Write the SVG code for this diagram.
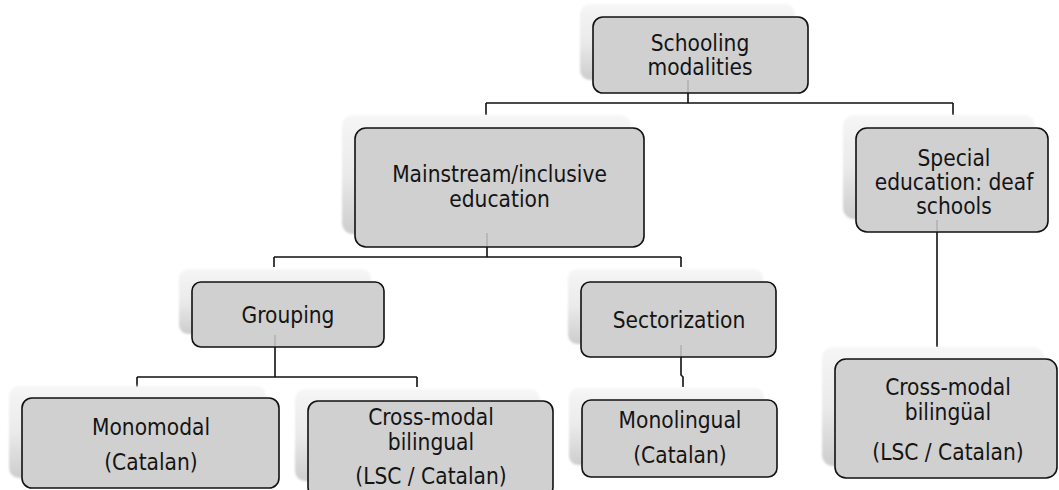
<svg xmlns="http://www.w3.org/2000/svg" width="1059" height="490" viewBox="0 0 1059 490">
  <style>
    .box { fill: #d0d0d0; stroke: #111; stroke-width: 1.6; }
    .back { fill: url(#backFill); filter: url(#soft); }
    .lbl { font-family: "DejaVu Sans Condensed", "DejaVu Sans", sans-serif; font-size: 22.5px; fill: #141414; text-anchor: middle; }
    .wire { fill: none; stroke: #111; stroke-width: 1.6; }
    .ghost { fill: none; stroke: #a8a8a8; stroke-width: 1.2; }
  </style>
  <defs>
    <linearGradient id="backFill" x1="0" y1="0" x2="0" y2="1">
      <stop offset="0" stop-color="#f6f6f6"/>
      <stop offset="0.5" stop-color="#eaeaea"/>
      <stop offset="1" stop-color="#cdcdcd"/>
    </linearGradient>
    <filter id="soft" x="-10%" y="-10%" width="120%" height="120%">
      <feGaussianBlur stdDeviation="1"/>
    </filter>
  </defs>
  <rect width="1059" height="490" fill="#fff"/>

  <!-- connectors -->
  <g id="connectors">
    <path class="wire" d="M688,93 V103 M486,103 H953 M486,103 V115 M953,103 V115"/>
    <path class="wire" d="M487,247 V257 M274,257 H681 M274,257 V267 M681,257 V267"/>
    <path class="wire" d="M275,347 V377 M137,377 H417 M137,377 V387 M417,377 V387"/>
    <path class="wire" d="M681,357 V375 L683,377 V387"/>
    <path class="wire" d="M937,232 V347"/>
  </g>

  <g id="n-schooling">
    <rect class="back" x="580" y="4" width="215" height="76" rx="10"/>
    <rect class="box" x="593" y="17" width="215" height="76" rx="10"/>
    <line class="ghost" x1="688" y1="80" x2="688" y2="92"/>
    <text class="lbl" x="700" y="51">Schooling</text>
    <text class="lbl" x="700" y="75">modalities</text>
  </g>

  <g id="n-mainstream">
    <rect class="back" x="342" y="115" width="289" height="119" rx="11"/>
    <rect class="box" x="355" y="128" width="289" height="119" rx="11"/>
    <line class="ghost" x1="487" y1="233" x2="487" y2="246"/>
    <text class="lbl" x="499.5" y="182">Mainstream/inclusive</text>
    <text class="lbl" x="499.5" y="207">education</text>
  </g>

  <g id="n-special">
    <rect class="back" x="843" y="115" width="192" height="104" rx="11"/>
    <rect class="box" x="856" y="128" width="192" height="104" rx="11"/>
    <line class="ghost" x1="937" y1="220" x2="937" y2="231"/>
    <text class="lbl" x="954" y="166">Special</text>
    <text class="lbl" x="954" y="190">education: deaf</text>
    <text class="lbl" x="954" y="214">schools</text>
  </g>

  <g id="n-grouping">
    <rect class="back" x="179" y="269" width="192" height="65" rx="9"/>
    <rect class="box" x="192" y="282" width="192" height="65" rx="9"/>
    <line class="ghost" x1="275" y1="335" x2="275" y2="346"/>
    <text class="lbl" x="288" y="323">Grouping</text>
  </g>

  <g id="n-sectorization">
    <rect class="back" x="568" y="269" width="195" height="75" rx="9"/>
    <rect class="box" x="581" y="282" width="195" height="75" rx="9"/>
    <line class="ghost" x1="681" y1="345" x2="681" y2="356"/>
    <text class="lbl" x="679" y="328">Sectorization</text>
  </g>

  <g id="n-monomodal">
    <rect class="back" x="9" y="386" width="257" height="92" rx="10"/>
    <rect class="box" x="22" y="398" width="257" height="90" rx="10"/>
    <text class="lbl" x="151" y="435">Monomodal</text>
    <text class="lbl" x="151" y="470">(Catalan)</text>
  </g>

  <g id="n-crossmodal-mid">
    <rect class="back" x="295" y="389" width="245" height="92" rx="10"/>
    <rect class="box" x="308" y="401" width="245" height="96" rx="10"/>
    <text class="lbl" x="431" y="425">Cross-modal</text>
    <text class="lbl" x="431" y="450">bilingual</text>
    <text class="lbl" x="431" y="484">(LSC / Catalan)</text>
  </g>

  <g id="n-monolingual">
    <rect class="back" x="569" y="388" width="195" height="77" rx="9"/>
    <rect class="box" x="582" y="400" width="195" height="77" rx="9"/>
    <text class="lbl" x="680" y="428">Monolingual</text>
    <text class="lbl" x="680" y="463">(Catalan)</text>
  </g>

  <g id="n-crossmodal-right">
    <rect class="back" x="822" y="347" width="222" height="119" rx="11"/>
    <rect class="box" x="835" y="359" width="222" height="119" rx="11"/>
    <text class="lbl" x="948" y="395">Cross-modal</text>
    <text class="lbl" x="948" y="420">bilingüal</text>
    <text class="lbl" x="948" y="460">(LSC / Catalan)</text>
  </g>
</svg>
